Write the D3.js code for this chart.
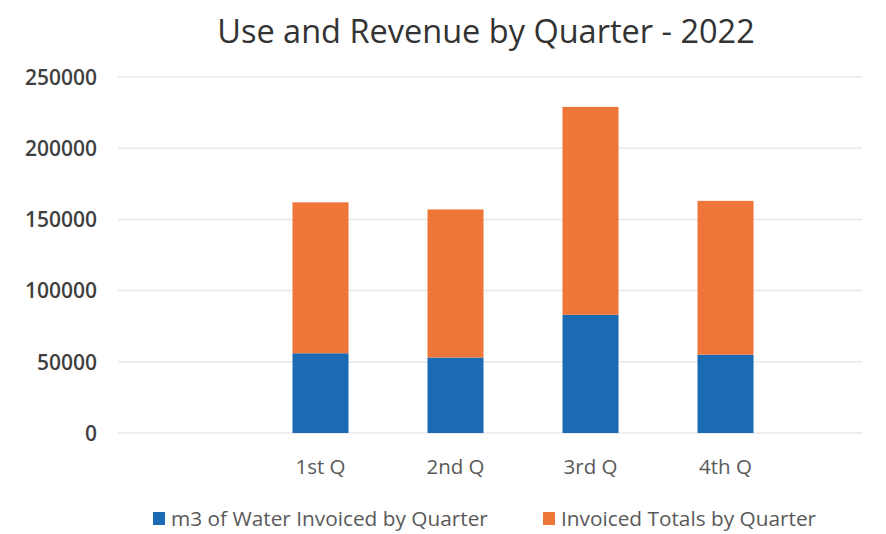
<!DOCTYPE html>
<html>
<head>
<meta charset="utf-8">
<script src="https://cdn.jsdelivr.net/npm/d3@7"></script>
<style>
  html, body { margin: 0; padding: 0; background: #fff; }
  svg text { font-family: "Open Sans", "DejaVu Sans", sans-serif; }
</style>
</head>
<body>
<svg id="chart" width="886" height="534"></svg>
<script>
// Quarterly water use and invoiced totals, 2022
const quarters = ["1st Q", "2nd Q", "3rd Q", "4th Q"];
const waterInvoiced = [56000, 53000, 83000, 55000];
const invoicedTotals = [106000, 104000, 146000, 108000];
const yTicks = [0, 50000, 100000, 150000, 200000, 250000];
const seriesNames = ["m3 of Water Invoiced by Quarter", "Invoiced Totals by Quarter"];
const seriesColors = ["#1b6ab4", "#ee7639"];

const svg = d3.select("#chart");

const plot = { left: 118, right: 862, top: 77, bottom: 433 };

// A leading empty slot leaves space before the first quarter
const x = d3.scaleBand()
  .domain(["", ...quarters])
  .range([plot.left, plot.left + 5 * 135])
  .paddingInner(0.585)
  .paddingOuter(0.2925);

const y = d3.scaleLinear()
  .domain([0, 250000])
  .range([plot.bottom, plot.top]);

// Horizontal gridlines
svg.append("g")
  .selectAll("line")
  .data(yTicks)
  .join("line")
  .attr("x1", plot.left)
  .attr("x2", plot.right)
  .attr("y1", d => y(d))
  .attr("y2", d => y(d))
  .attr("stroke", "#e8e8e8")
  .attr("stroke-width", 1.5);

// Y axis labels
const yAxis = d3.axisLeft(y).tickValues(yTicks).tickFormat(d3.format("d")).tickSize(0).tickPadding(0);
const gy = svg.append("g").attr("transform", `translate(97,0)`).call(yAxis);
gy.select(".domain").remove();
gy.selectAll("text")
  .attr("font-size", 21)
  .attr("font-weight", 600)
  .attr("fill", "#3f3f3f")
  .attr("dy", "0.35em");

// X axis labels
const xAxis = d3.axisBottom(x).tickValues(quarters).tickSize(0).tickPadding(0);
const gx = svg.append("g").attr("transform", `translate(0,${plot.bottom})`).call(xAxis);
gx.select(".domain").remove();
gx.selectAll("text")
  .attr("font-size", 20.5)
  .attr("fill", "#595959")
  .attr("y", 34)
  .attr("dy", "0.35em");

// Stacked bars
const rows = quarters.map((q, i) => ({ q, water: waterInvoiced[i], totals: invoicedTotals[i] }));
const stack = d3.stack().keys(["water", "totals"])(rows);

svg.append("g")
  .selectAll("g")
  .data(stack)
  .join("g")
  .attr("fill", (d, i) => seriesColors[i])
  .selectAll("rect")
  .data(d => d)
  .join("rect")
  .attr("x", d => x(d.data.q))
  .attr("width", x.bandwidth())
  .attr("y", d => y(d[1]))
  .attr("height", d => y(d[0]) - y(d[1]));

// Title
svg.append("text")
  .attr("x", 486)
  .attr("y", 43)
  .attr("text-anchor", "middle")
  .attr("font-size", 32.5)
  .attr("fill", "#333")
  .text("Use and Revenue by Quarter - 2022");

// Legend
const legendPos = [153, 543];
const legend = svg.append("g")
  .selectAll("g")
  .data(seriesNames)
  .join("g")
  .attr("transform", (d, i) => `translate(${legendPos[i]},519)`);
legend.append("rect")
  .attr("x", 0).attr("y", -7)
  .attr("width", 12).attr("height", 13)
  .attr("fill", (d, i) => seriesColors[i]);
legend.append("text")
  .attr("x", 18)
  .attr("y", 0)
  .attr("dy", "0.35em")
  .attr("font-size", 20.8)
  .attr("fill", "#595959")
  .text(d => d);
</script>
</body>
</html>
